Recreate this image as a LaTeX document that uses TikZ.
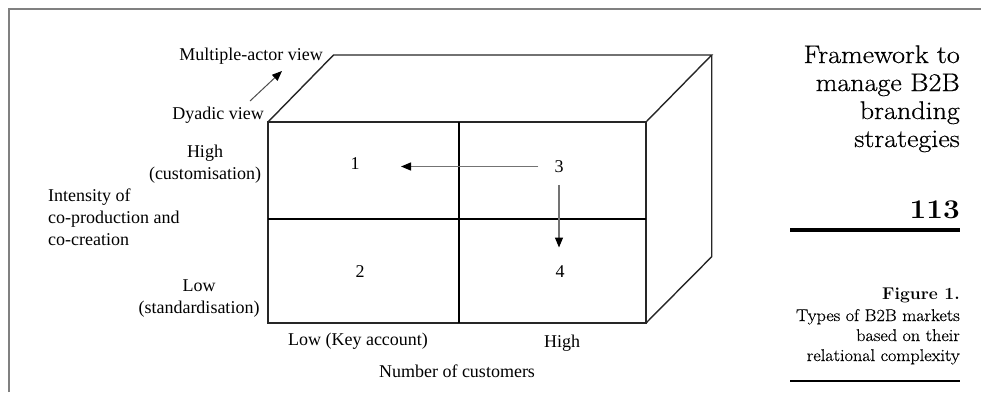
\documentclass[tikz,border=0pt]{standalone}
\usepackage{fontspec}
\newfontfamily\tms{Liberation Serif}
\newfontfamily\lmhead{Latin Modern Roman}[FakeBold=0.6,FakeStretch=1.1]
\newfontfamily\lmcap{Latin Modern Roman}[FakeBold=0.5,FakeStretch=1.07]
\newfontfamily\lmbnum{Latin Modern Roman}[FakeStretch=1.1]
\newfontfamily\lmbcap{Latin Modern Roman}[FakeStretch=1.03]
\usetikzlibrary{arrows.meta}
\begin{document}
\begin{tikzpicture}[x=1pt,y=-1pt,
  lbl/.style={inner sep=0pt,font=\tms\fontsize{18}{22}\selectfont},
  num/.style={inner sep=0pt,font=\tms\fontsize{18}{22}\selectfont},
  headtxt/.style={inner sep=0pt,font=\lmhead\fontsize{25.5}{30}\selectfont,anchor=base east},
  captxt/.style={inner sep=0pt,font=\lmcap\fontsize{17}{20}\selectfont,anchor=base east},
  cubeedge/.style={draw=black!85,line width=1.4pt,line join=miter},
  divider/.style={draw=black,line width=2pt},
  arr/.style={draw=black!55,line width=1.3pt,-{Triangle[length=10pt,width=8pt,black]}},
  pageframe/.style={draw=black!50,line width=2pt}
]
\useasboundingbox (0,0) rectangle (981,392);
% page frame
\coordinate (pf1) at (9,392);
\coordinate (pf2) at (9,9);
\coordinate (pf3) at (981,9);
\draw[pageframe] (pf1) -- (pf2) -- (pf3);

% cube corners
\coordinate (A) at (268,122);
\coordinate (B) at (646,122);
\coordinate (C) at (646,323);
\coordinate (D) at (268,323);
\coordinate (E) at (333.5,55);
\coordinate (F) at (711.7,55);
\coordinate (G) at (711.7,256.7);
\coordinate (M1) at (268,219);
\coordinate (M2) at (646,219);
\coordinate (V1) at (459,122);
\coordinate (V2) at (459,323);

\draw[cubeedge] (A) -- (E) -- (F) -- (B);
\draw[cubeedge] (F) -- (G) -- (C);
\draw[cubeedge] (A) rectangle (C);
\draw[divider] (M1) -- (M2);
\draw[divider] (V1) -- (V2);

% quadrant numbers
\node[num] (n1) at (355,163.5) {1};
\node[num] (n2) at (360,271.5) {2};
\node[num] (n3) at (559,166.5) {3};
\node[num] (n4) at (560,271.5) {4};

\draw[arr,shorten <=16pt,shorten >=46pt] (n3) -- (n3 -| n1);
\draw[arr,shorten <=12pt,shorten >=24pt] (n3) -- (n3 |- n4);

% view labels
\node[lbl,anchor=base east] (mav) at (323,60) {Multiple-actor view};
\node[lbl,anchor=base east] (dv) at (264,119) {Dyadic view};
\coordinate (dvArrS) at (250,101);
\coordinate (dvArrE) at (282,71);
\draw[draw=black!70,line width=1pt,-{Triangle[length=10pt,width=8pt,black]}] (dvArrS) -- (dvArrE);

% axis labels
\node[lbl,align=center,anchor=north] (high) at (205,145) {High\\(customisation)};
\node[lbl,align=left,anchor=north west] (int) at (48,189) {Intensity of\\co-production and\\co-creation};
\node[lbl,align=center,anchor=north] (low) at (199,280) {Low\\(standardisation)};
\node[lbl,anchor=base] (lka) at (358,345) {Low (Key account)};
\node[lbl,anchor=base] (hi) at (562,347) {High};
\node[lbl,anchor=base] (noc) at (457,377) {Number of customers};

% right column
\node[headtxt] (t1) at (960,63) {Framework to};
\node[headtxt] (t2) at (960,91) {manage B2B};
\node[headtxt] (t3) at (960,119) {branding};
\node[headtxt] (t4) at (960,147) {strategies};
\node[inner sep=0pt,anchor=base east,font=\lmbnum\bfseries\fontsize{27}{30}\selectfont] (pg) at (960,218) {113};
\coordinate (tl1) at (790,230);
\coordinate (tl2) at (960,230);
\draw[line width=4.5pt] (tl1) -- (tl2);
\node[captxt,font=\lmbcap\bfseries\fontsize{17}{20}\selectfont] (fig) at (960,299) {Figure 1.};
\node[captxt] (c1) at (960,321) {Types of B2B markets};
\node[captxt] (c2) at (960,341) {based on their};
\node[captxt] (c3) at (960,361) {relational complexity};
\coordinate (bl1) at (790,381);
\coordinate (bl2) at (960,381);
\draw[line width=1.8pt] (bl1) -- (bl2);
\end{tikzpicture}
\end{document}
